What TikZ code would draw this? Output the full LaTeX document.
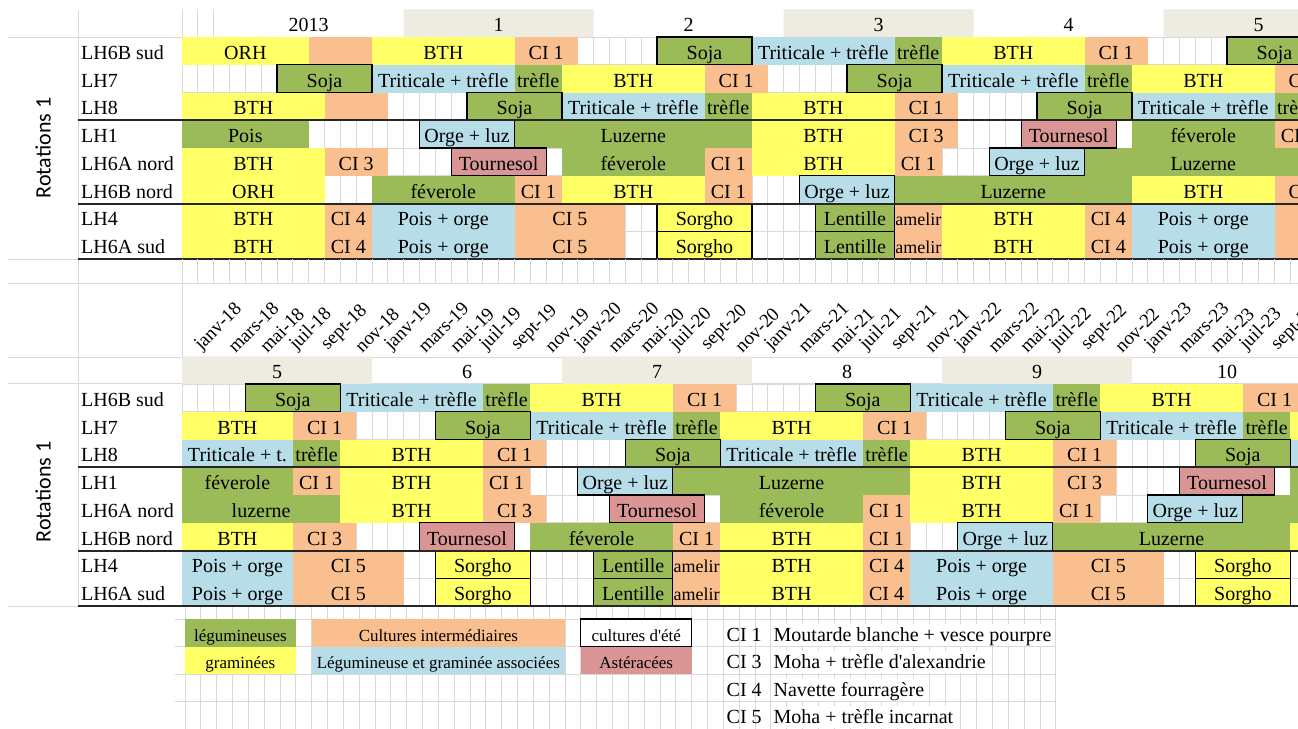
\documentclass[tikz,border=0pt]{standalone}
\usepackage{fontspec}
\setmainfont{Liberation Serif}
\newfontfamily\calibri{Carlito}

\definecolor{legugreen}{HTML}{9BBB59}
\definecolor{gramyellow}{HTML}{FFFF66}
\definecolor{interorange}{HTML}{FABF8F}
\definecolor{assoblue}{HTML}{B7DEE8}
\definecolor{asterpink}{HTML}{DA9694}
\definecolor{yeartan}{HTML}{EEECE1}
\definecolor{gridgray}{HTML}{D9D9D9}

\newcommand{\blockpfx}{t}
% one crop block: row, first month, last month, style, text
\newcommand{\plotcrop}[5]{%
  \path[#4] (#2,#1) rectangle (#3,#1+1);
  \node[cell] (\blockpfx-#1-#2) at ({(#2+#3)/2},#1+0.81) {#5};}

\begin{document}
\begin{tikzpicture}[x=1pt,y=-1pt,
  gridline/.style={draw=gridgray,line width=0.7pt},
  rowsep/.style={draw=black!85,line width=2pt},
  legu/.style={fill=legugreen},
  gram/.style={fill=gramyellow},
  inter/.style={fill=interorange},
  asso/.style={fill=assoblue},
  aster/.style={fill=asterpink},
  yearband/.style={fill=yeartan},
  summer/.style={draw=black,line width=1.3pt},
  cell/.style={anchor=base,inner sep=0pt,font=\fontsize{20}{22}\selectfont},
  plotname/.style={anchor=base west,inner sep=0pt,font=\fontsize{20}{22}\selectfont},
  datelbl/.style={anchor=south west,rotate=45,inner sep=0pt,font=\fontsize{19}{21}\selectfont},
  rotlbl/.style={rotate=90,font=\calibri\fontsize{22}{24}\selectfont}]
\useasboundingbox (0,0) rectangle (1298,728);
\clip (0,0) rectangle (1298,728);

\draw[gridline] (78,10) -- (78,606);
\draw[gridline] (182,10) -- (182,606);
\foreach \yy in {37,259,283,357,383.5,606} \draw[gridline] (8,\yy) -- (1298,\yy);

\node[rotlbl] (rot1) at (43,148) {Rotations 1};
\node[rotlbl] (rot2) at (43,492) {Rotations 1};

% ---------- years 2013 to 5
\begin{scope}[shift={(182,37)},x=15.8333pt,y=-27.75pt]
\path[yearband] (14,-1) rectangle (26,0) (38,-1) rectangle (50,0) (62,-1) rectangle (74,0);
\foreach \cc in {0,1,2} \draw[gridline] (\cc,-1) -- (\cc,0);
\foreach \cc in {0,...,72} \draw[gridline] (\cc,0) -- (\cc,8);
\foreach \rr in {0,...,8} \draw[gridline] (0,\rr) -- (72,\rr);
\node[cell] (y2013) at (8,-0.19) {2013};
\foreach \nn [count=\kk from 0] in {1,...,5} \node[cell] (ty\nn) at ({20+12*\kk},-0.19) {\nn};
\foreach \nm [count=\rr from 0] in {LH6B sud,LH7,LH8,LH1,LH6A nord,LH6B nord,LH4,LH6A sud}
  \node[plotname] (tn\rr) at (-6.38,\rr+0.81) {\nm};

\plotcrop{0}{0}{8}{gram}{ORH}
\plotcrop{0}{8}{12}{inter}{}
\plotcrop{0}{12}{21}{gram}{BTH}
\plotcrop{0}{21}{25}{inter}{CI 1}
\plotcrop{0}{36}{45}{asso}{Triticale + trèfle}
\plotcrop{0}{45}{48}{legu}{trèfle}
\plotcrop{0}{48}{57}{gram}{BTH}
\plotcrop{0}{57}{61}{inter}{CI 1}

\plotcrop{1}{12}{21}{asso}{Triticale + trèfle}
\plotcrop{1}{21}{24}{legu}{trèfle}
\plotcrop{1}{24}{33}{gram}{BTH}
\plotcrop{1}{33}{37}{inter}{CI 1}
\plotcrop{1}{48}{57}{asso}{Triticale + trèfle}
\plotcrop{1}{57}{60}{legu}{trèfle}
\plotcrop{1}{60}{69}{gram}{BTH}
\plotcrop{1}{69}{73}{inter}{CI 1}

\plotcrop{2}{0}{9}{gram}{BTH}
\plotcrop{2}{9}{13}{inter}{}
\plotcrop{2}{24}{33}{asso}{Triticale + trèfle}
\plotcrop{2}{33}{36}{legu}{trèfle}
\plotcrop{2}{36}{45}{gram}{BTH}
\plotcrop{2}{45}{49}{inter}{CI 1}
\plotcrop{2}{60}{69}{asso}{Triticale + trèfle}
\plotcrop{2}{69}{72}{legu}{trèfle}

\plotcrop{3}{0}{8}{legu}{Pois}
\plotcrop{3}{21}{36}{legu}{Luzerne}
\plotcrop{3}{36}{45}{gram}{BTH}
\plotcrop{3}{45}{49}{inter}{CI 3}
\plotcrop{3}{60}{69}{legu}{féverole}
\plotcrop{3}{69}{72}{inter}{CI 1}

\plotcrop{4}{0}{9}{gram}{BTH}
\plotcrop{4}{9}{13}{inter}{CI 3}
\plotcrop{4}{24}{33}{legu}{féverole}
\plotcrop{4}{33}{36}{inter}{CI 1}
\plotcrop{4}{36}{45}{gram}{BTH}
\plotcrop{4}{45}{48}{inter}{CI 1}
\plotcrop{4}{57}{72}{legu}{Luzerne}

\plotcrop{5}{0}{9}{gram}{ORH}
\plotcrop{5}{12}{21}{legu}{féverole}
\plotcrop{5}{21}{24}{inter}{CI 1}
\plotcrop{5}{24}{33}{gram}{BTH}
\plotcrop{5}{33}{36}{inter}{CI 1}
\plotcrop{5}{45}{60}{legu}{Luzerne}
\plotcrop{5}{60}{69}{gram}{BTH}
\plotcrop{5}{69}{73}{inter}{CI 3}

\foreach \rr in {6,7} {
  \plotcrop{\rr}{0}{9}{gram}{BTH}
  \plotcrop{\rr}{9}{12}{inter}{CI 4}
  \plotcrop{\rr}{12}{21}{asso}{Pois + orge}
  \plotcrop{\rr}{21}{28}{inter}{CI 5}
  \plotcrop{\rr}{45}{48}{inter}{\fontsize{18}{19}\selectfont amelir}
  \plotcrop{\rr}{48}{57}{gram}{BTH}
  \plotcrop{\rr}{57}{60}{inter}{CI 4}
  \plotcrop{\rr}{60}{69}{asso}{Pois + orge}
  \plotcrop{\rr}{69}{76}{inter}{}
}

% framed summer crops
\plotcrop{0}{30}{36}{legu,summer}{Soja}
\plotcrop{0}{66}{72}{legu,summer}{Soja}
\plotcrop{1}{6}{12}{legu,summer}{Soja}
\plotcrop{1}{42}{48}{legu,summer}{Soja}
\plotcrop{2}{18}{24}{legu,summer}{Soja}
\plotcrop{2}{54}{60}{legu,summer}{Soja}
\plotcrop{3}{15}{21}{asso,summer}{Orge + luz}
\plotcrop{3}{53}{59}{aster,summer}{Tournesol}
\plotcrop{4}{17}{23}{aster,summer}{Tournesol}
\plotcrop{4}{51}{57}{asso,summer}{Orge + luz}
\plotcrop{5}{39}{45}{asso,summer}{Orge + luz}
\foreach \rr in {6,7} {
  \plotcrop{\rr}{30}{36}{gram,summer}{Sorgho}
  \plotcrop{\rr}{40}{45}{legu,summer}{Lentille}
}
\end{scope}

\draw[rowsep] (78,120.25) -- (1298,120.25);
\draw[rowsep] (78,203.5) -- (1298,203.5);
\draw[rowsep] (78,259) -- (1298,259);

% ---------- years 5 to 10
\renewcommand{\blockpfx}{b}
\begin{scope}[shift={(182,384)},x=15.8333pt,y=-27.75pt]
\foreach \cc in {0,...,72} \draw[gridline] (\cc,-4.5) -- (\cc,-3.64);
\foreach \yr [count=\kk from 0] in {18,...,23}
  \foreach \mo [count=\jj from 0] in {janv,mars,mai,juil,sept,nov}
    \node[datelbl] (d\yr-\jj) at ({(6*\kk+\jj)*2+1.4},-1.08) {\mo-\yr};
\path[yearband] (0,-1) rectangle (12,0) (24,-1) rectangle (36,0) (48,-1) rectangle (60,0);
\foreach \nn [count=\kk from 0] in {5,...,10} \node[cell] (by\nn) at ({6+12*\kk},-0.19) {\nn};
\foreach \cc in {0,...,72} \draw[gridline] (\cc,0) -- (\cc,8);
\foreach \rr in {0,...,8} \draw[gridline] (0,\rr) -- (72,\rr);
\foreach \nm [count=\rr from 0] in {LH6B sud,LH7,LH8,LH1,LH6A nord,LH6B nord,LH4,LH6A sud}
  \node[plotname] (bn\rr) at (-6.38,\rr+0.81) {\nm};

\plotcrop{0}{10}{19}{asso}{Triticale + trèfle}
\plotcrop{0}{19}{22}{legu}{trèfle}
\plotcrop{0}{22}{31}{gram}{BTH}
\plotcrop{0}{31}{35}{inter}{CI 1}
\plotcrop{0}{46}{55}{asso}{Triticale + trèfle}
\plotcrop{0}{55}{58}{legu}{trèfle}
\plotcrop{0}{58}{67}{gram}{BTH}
\plotcrop{0}{67}{71}{inter}{CI 1}

\plotcrop{1}{0}{7}{gram}{BTH}
\plotcrop{1}{7}{11}{inter}{CI 1}
\plotcrop{1}{22}{31}{asso}{Triticale + trèfle}
\plotcrop{1}{31}{34}{legu}{trèfle}
\plotcrop{1}{34}{43}{gram}{BTH}
\plotcrop{1}{43}{47}{inter}{CI 1}
\plotcrop{1}{58}{67}{asso}{Triticale + trèfle}
\plotcrop{1}{67}{70}{legu}{trèfle}
\plotcrop{1}{70}{79}{gram}{}

\plotcrop{2}{0}{7}{asso}{Triticale + t.}
\plotcrop{2}{7}{10}{legu}{trèfle}
\plotcrop{2}{10}{19}{gram}{BTH}
\plotcrop{2}{19}{23}{inter}{CI 1}
\plotcrop{2}{34}{43}{asso}{Triticale + trèfle}
\plotcrop{2}{43}{46}{legu}{trèfle}
\plotcrop{2}{46}{55}{gram}{BTH}
\plotcrop{2}{55}{59}{inter}{CI 1}
\plotcrop{2}{70}{79}{asso}{}

\plotcrop{3}{0}{7}{legu}{féverole}
\plotcrop{3}{7}{10}{inter}{CI 1}
\plotcrop{3}{10}{19}{gram}{BTH}
\plotcrop{3}{19}{22}{inter}{CI 1}
\plotcrop{3}{31}{46}{legu}{Luzerne}
\plotcrop{3}{46}{55}{gram}{BTH}
\plotcrop{3}{55}{59}{inter}{CI 3}
\plotcrop{3}{70}{79}{legu}{}

\plotcrop{4}{0}{10}{legu}{luzerne}
\plotcrop{4}{10}{19}{gram}{BTH}
\plotcrop{4}{19}{23}{inter}{CI 3}
\plotcrop{4}{34}{43}{legu}{féverole}
\plotcrop{4}{43}{46}{inter}{CI 1}
\plotcrop{4}{46}{55}{gram}{BTH}
\plotcrop{4}{55}{58}{inter}{CI 1}
\plotcrop{4}{67}{82}{legu}{}

\plotcrop{5}{0}{7}{gram}{BTH}
\plotcrop{5}{7}{11}{inter}{CI 3}
\plotcrop{5}{22}{31}{legu}{féverole}
\plotcrop{5}{31}{34}{inter}{CI 1}
\plotcrop{5}{34}{43}{gram}{BTH}
\plotcrop{5}{43}{46}{inter}{CI 1}
\plotcrop{5}{55}{70}{legu}{Luzerne}
\plotcrop{5}{70}{79}{gram}{}

\foreach \rr in {6,7} {
  \plotcrop{\rr}{0}{7}{asso}{Pois + orge}
  \plotcrop{\rr}{7}{14}{inter}{CI 5}
  \plotcrop{\rr}{31}{34}{inter}{\fontsize{18}{19}\selectfont amelir}
  \plotcrop{\rr}{34}{43}{gram}{BTH}
  \plotcrop{\rr}{43}{46}{inter}{CI 4}
  \plotcrop{\rr}{46}{55}{asso}{Pois + orge}
  \plotcrop{\rr}{55}{62}{inter}{CI 5}
}

% framed summer crops
\plotcrop{0}{4}{10}{legu,summer}{Soja}
\plotcrop{0}{40}{46}{legu,summer}{Soja}
\plotcrop{1}{16}{22}{legu,summer}{Soja}
\plotcrop{1}{52}{58}{legu,summer}{Soja}
\plotcrop{2}{28}{34}{legu,summer}{Soja}
\plotcrop{2}{64}{70}{legu,summer}{Soja}
\plotcrop{3}{25}{31}{asso,summer}{Orge + luz}
\plotcrop{3}{63}{69}{aster,summer}{Tournesol}
\plotcrop{4}{27}{33}{aster,summer}{Tournesol}
\plotcrop{4}{61}{67}{asso,summer}{Orge + luz}
\plotcrop{5}{15}{21}{aster,summer}{Tournesol}
\plotcrop{5}{49}{55}{asso,summer}{Orge + luz}
\foreach \rr in {6,7} {
  \plotcrop{\rr}{16}{22}{gram,summer}{Sorgho}
  \plotcrop{\rr}{26}{31}{legu,summer}{Lentille}
  \plotcrop{\rr}{64}{70}{gram,summer}{Sorgho}
}
\end{scope}

\draw[rowsep] (78,467.25) -- (1298,467.25);
\draw[rowsep] (78,550.5) -- (1298,550.5);
\draw[rowsep] (78,606) -- (1298,606);

% ---------- legend
\renewcommand{\blockpfx}{k}
\begin{scope}[shift={(185,619)},x=15.8333pt,y=-27.5pt,
  cell/.append style={font=\fontsize{17}{19}\selectfont}]
\foreach \cc in {0,...,55} \draw[gridline] (\cc,-0.42) -- (\cc,4);
\foreach \rr in {0,...,4} \draw[gridline] (-0.63,\rr) -- (55,\rr);
\plotcrop{0}{0}{7}{legu}{légumineuses}
\plotcrop{0}{8}{24}{inter}{Cultures intermédiaires}
\plotcrop{0}{25}{32}{fill=white,summer}{cultures d\textquotesingle été}
\plotcrop{1}{0}{7}{gram}{graminées}
\plotcrop{1}{8}{24}{asso}{Légumineuse et graminée associées}
\plotcrop{1}{25}{32}{aster}{Astéracées}
\foreach \ci/\txt [count=\rr from 0] in {1/Moutarde blanche + vesce pourpre,
    3/Moha + trèfle d\textquotesingle alexandrie,4/Navette fourragère,5/Moha + trèfle incarnat} {
  \node[plotname] (ci\ci) at (34.2,\rr+0.81) {CI \ci};
  \node[plotname,fill=white,inner xsep=2pt,text height=17pt,text depth=4pt,inner ysep=0.5pt]
    (cidesc\ci) at (37.04,\rr+0.81) {\txt};
}
\end{scope}
\end{tikzpicture}
\end{document}
